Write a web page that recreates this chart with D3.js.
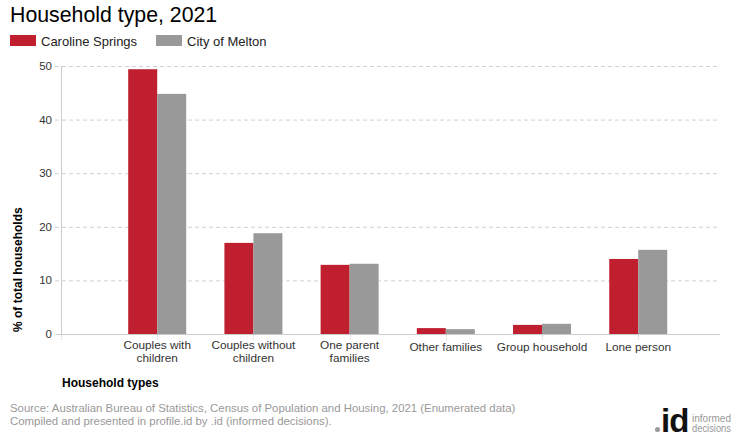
<!DOCTYPE html>
<html><head><meta charset="utf-8">
<script src="https://cdn.jsdelivr.net/npm/d3@7"></script>
<style>body{margin:0;background:#fff;font-family:"Liberation Sans",Arial,sans-serif;}</style>
</head><body>
<svg id="c" width="740" height="440"></svg>
<script>
const categories = [["Couples with","children"],["Couples without","children"],["One parent","families"],["Other families"],["Group household"],["Lone person"]];
const seriesNames = ["Caroline Springs","City of Melton"];
const carolineSprings = [49.4, 17.0, 12.9, 1.1, 1.7, 14.0];
const cityOfMelton = [44.8, 18.8, 13.1, 0.9, 1.9, 15.7];
const yTicks = [0,10,20,30,40,50];
const colors = ["#c01f2f","#999999"];

(function(){
const svg = d3.select("#c");
const pL = 61, pR = 720, pT = 66, pB = 334;
const y = d3.scaleLinear().domain([0,50]).range([pB, pT]);
const x = d3.scaleLinear().domain([-1, 5.85]).range([pL, pR]);
const bw = 29;

svg.append("g").selectAll("line").data(yTicks.filter(d=>d>0)).join("line")
  .attr("x1", 55).attr("x2", pR).attr("y1", d=>y(d)+0.5).attr("y2", d=>y(d)+0.5)
  .attr("stroke","#d0d0d0").attr("stroke-dasharray","4,3");
svg.append("line").attr("x1",pL+0.5).attr("x2",pL+0.5).attr("y1",pT).attr("y2",pB)
  .attr("stroke","#cccccc");
svg.append("line").attr("x1",56).attr("x2",pL).attr("y1",pB+0.5).attr("y2",pB+0.5).attr("stroke","#cccccc");
svg.append("g").selectAll("text").data(yTicks).join("text")
  .attr("x", 52).attr("y", d=>y(d)+4).attr("text-anchor","end")
  .attr("font-size",11.5).attr("fill","#333").text(d=>d);

const series = [carolineSprings, cityOfMelton];
series.forEach((vals, s) => {
  svg.append("g").selectAll("rect").data(vals).join("rect")
    .attr("x", (d,i)=> x(i) - bw + s*bw)
    .attr("width", bw)
    .attr("y", d=>y(d))
    .attr("height", d=>pB - y(d))
    .attr("fill", colors[s]);
});

svg.append("line").attr("x1",pL).attr("x2",pR).attr("y1",pB+0.5).attr("y2",pB+0.5)
  .attr("stroke","#cccccc");
svg.append("g").selectAll("line").data(d3.range(-1,6)).join("line")
  .attr("x1", i=>Math.round(x(i))+0.5).attr("x2", i=>Math.round(x(i))+0.5)
  .attr("y1", pB+1).attr("y2", pB+7)
  .attr("stroke","#dddddd").attr("stroke-dasharray","2,1");
const lab = svg.append("g").selectAll("text").data(categories).join("text")
  .attr("text-anchor","middle").attr("font-size",11.8).attr("fill","#333")
  .attr("y", d=> d.length===1 ? 351 : 349);
lab.each(function(d,i){
  const t = d3.select(this);
  d.forEach((line,k)=>{
    t.append("tspan").attr("x", x(i)).attr("dy", k===0?0:13).text(line);
  });
});

svg.append("text").attr("x",62).attr("y",387).attr("font-size",12).attr("font-weight","bold")
  .attr("fill","#000").text("Household types");
svg.append("text").attr("transform","translate(22,332) rotate(-90)").attr("font-size",12)
  .attr("font-weight","bold").attr("fill","#000").text("% of total households");

svg.append("text").attr("x",10).attr("y",22).attr("font-size",21.3).attr("fill","#000")
  .text("Household type, 2021");
const legX = [10,156];
seriesNames.forEach((n,s)=>{
  svg.append("rect").attr("x",legX[s]).attr("y",35).attr("width",26).attr("height",11).attr("fill",colors[s]);
  svg.append("text").attr("x",legX[s]+31).attr("y",45.5).attr("font-size",13).attr("fill","#222").text(n);
});

svg.append("text").attr("x",10).attr("y",412).attr("font-size",11.4).attr("fill","#999")
  .text("Source: Australian Bureau of Statistics, Census of Population and Housing, 2021 (Enumerated data)");
svg.append("text").attr("x",10).attr("y",425).attr("font-size",11.4).attr("fill","#999")
  .text("Compiled and presented in profile.id by .id (informed decisions).");
svg.append("circle").attr("cx",657.5).attr("cy",429.5).attr("r",2.5).attr("fill","#999");
svg.append("text").attr("x",661).attr("y",432).attr("font-size",33).attr("font-weight","bold")
  .attr("fill","#111").attr("letter-spacing",-1).text("id");
svg.append("text").attr("x",692).attr("y",421.5).attr("font-size",10).attr("fill","#999")
  .attr("textLength",39).attr("lengthAdjust","spacingAndGlyphs").text("informed");
svg.append("text").attr("x",692).attr("y",431.5).attr("font-size",10).attr("fill","#999")
  .attr("textLength",39).attr("lengthAdjust","spacingAndGlyphs").text("decisions");
})();
</script>
</body></html>
